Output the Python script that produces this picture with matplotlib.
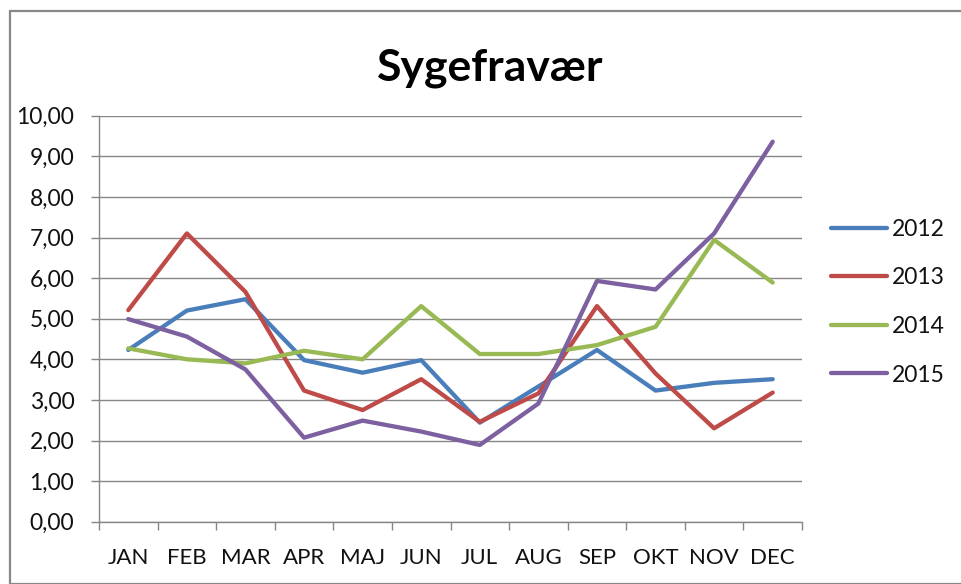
import matplotlib
matplotlib.use("Agg")
import matplotlib.pyplot as plt
from matplotlib.patches import Rectangle

months = ["JAN", "FEB", "MAR", "APR", "MAJ", "JUN", "JUL", "AUG", "SEP", "OKT", "NOV", "DEC"]
years = ["2012", "2013", "2014", "2015"]
v2012 = [4.23, 5.20, 5.48, 3.98, 3.67, 3.98, 2.44, 3.33, 4.23, 3.23, 3.42, 3.51]
v2013 = [5.21, 7.10, 5.66, 3.23, 2.75, 3.51, 2.46, 3.16, 5.31, 3.65, 2.30, 3.18]
v2014 = [4.27, 4.00, 3.90, 4.21, 4.00, 5.31, 4.13, 4.13, 4.35, 4.80, 6.94, 5.89]
v2015 = [4.99, 4.56, 3.75, 2.07, 2.49, 2.22, 1.89, 2.91, 5.93, 5.72, 7.10, 9.36]
series = [v2012, v2013, v2014, v2015]
colors = ["#4A7EBB", "#BE4B48", "#98B954", "#7D60A0"]
yticks = [0, 1, 2, 3, 4, 5, 6, 7, 8, 9, 10]

plt.rcParams['font.family'] = ['Lato', 'DejaVu Sans']

W, H = 961, 584
fig = plt.figure(figsize=(W / 100, H / 100), dpi=100)

# outer chart border
fig.patches.append(Rectangle((10 / W, 0), 1.2, 1 - 11 / H, transform=fig.transFigure,
                             fill=False, edgecolor="#888888", linewidth=1.6, zorder=0))

ax = fig.add_axes([99 / W, 1 - 521.7 / H, (802 - 99) / W, (521.7 - 115.7) / H])

x = list(range(len(months)))
for vals, c, lab in zip(series, colors, years):
    ax.plot(x, vals, color=c, linewidth=3.1, label=lab, solid_capstyle='round',
            solid_joinstyle='round', zorder=3)

ax.set_xlim(-0.5, len(months) - 0.5)
ax.set_ylim(0, 10)
ax.set_yticks(yticks)
ax.set_yticklabels([f"{v:.2f}".replace(".", ",") for v in yticks])
ax.set_xticks([i + 0.5 for i in range(-1, len(months))])
ax.set_xticklabels([])
ax.set_xticks(x, minor=True)
ax.set_xticklabels(months, minor=True)

gridc = "#868686"
ax.grid(axis='y', color=gridc, linewidth=1.0, zorder=1)
ax.set_axisbelow(True)
for s in ["top", "right"]:
    ax.spines[s].set_visible(False)
for s in ["left", "bottom"]:
    ax.spines[s].set_color(gridc)
    ax.spines[s].set_linewidth(1.0)

ax.tick_params(axis='y', which='major', direction='out', length=5.8, width=1.0, color=gridc,
               labelsize=16.5, pad=12, labelcolor="#111111")
ax.tick_params(axis='x', which='major', direction='out', length=6, width=1.0, color=gridc)
ax.tick_params(axis='x', which='minor', length=0, labelsize=16, pad=19, labelcolor="#111111")

fig.text(490 / W, 1 - 80 / H, "Sygefravær", ha='center', va='baseline',
         fontsize=32, fontweight='bold', color="#000000")

leg = fig.legend(loc='upper left', bbox_to_anchor=(831 / W, 1 - 219 / H), frameon=False,
                 fontsize=16.5, handlelength=2.45, handletextpad=0.22, labelspacing=1.2,
                 borderaxespad=0, borderpad=0)
for t in leg.get_texts():
    t.set_color("#111111")

fig.savefig("out.png", dpi=100)
